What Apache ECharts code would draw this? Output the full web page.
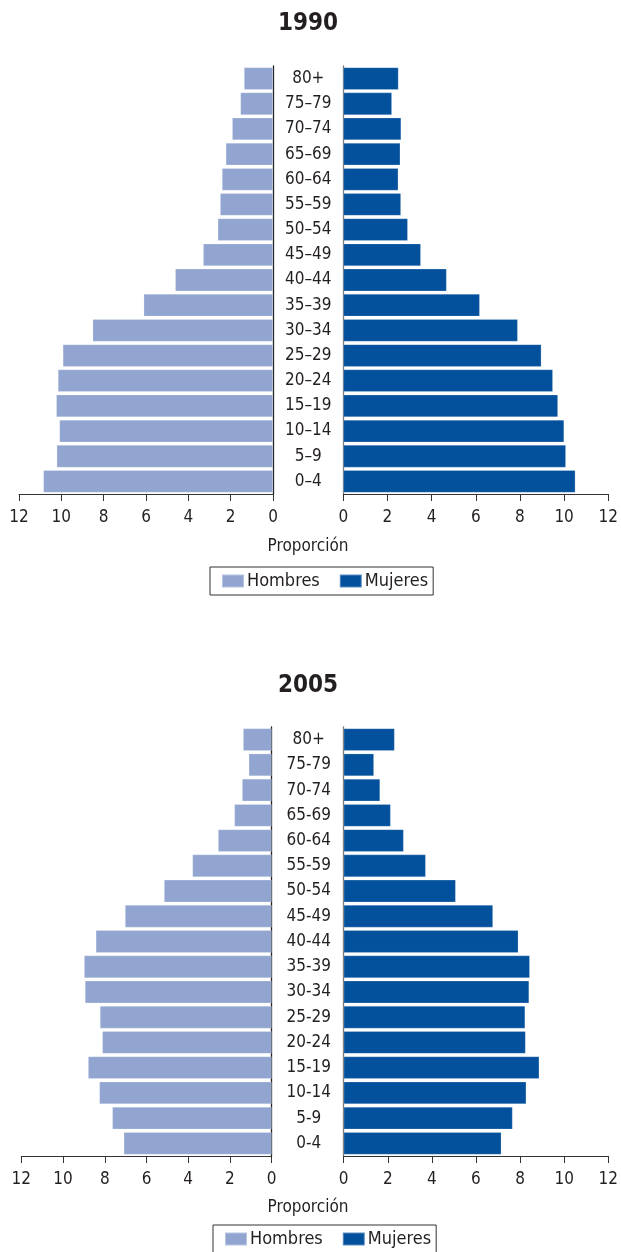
<!DOCTYPE html>
<html>
<head>
<meta charset="utf-8">
<script src="https://cdn.jsdelivr.net/npm/echarts@6/dist/echarts.min.js"></script>
<style>
html,body{margin:0;padding:0;background:#fff;}
#chart{width:621px;height:1252px;}
</style>
</head>
<body>
<div id="chart"></div>
<script>
// Categories (bottom to top)
const ages1990 = ['0–4','5–9','10–14','15–19','20–24','25–29','30–34','35–39','40–44','45–49','50–54','55–59','60–64','65–69','70–74','75–79','80+'];
const ages2005 = ['0-4','5-9','10-14','15-19','20-24','25-29','30-34','35-39','40-44','45-49','50-54','55-59','60-64','65-69','70-74','75-79','80+'];

const hombres1990 = [10.85,10.22,10.09,10.24,10.16,9.93,8.52,6.11,4.62,3.30,2.61,2.50,2.41,2.23,1.93,1.54,1.37];
const mujeres1990 = [10.51,10.08,10.00,9.72,9.49,8.97,7.90,6.18,4.68,3.51,2.92,2.61,2.49,2.58,2.62,2.20,2.50];
const hombres2005 = [7.09,7.64,8.26,8.80,8.12,8.23,8.95,8.99,8.43,7.03,5.16,3.80,2.57,1.79,1.42,1.10,1.37];
const mujeres2005 = [7.15,7.66,8.28,8.87,8.25,8.23,8.41,8.44,7.92,6.77,5.08,3.72,2.72,2.13,1.65,1.37,2.31];

const xTicks = [0,2,4,6,8,10,12];
const titles = ['1990','2005'];
const axisName = 'Proporción';
const seriesNames = ['Hombres','Mujeres'];

const FONT = "'Liberation Sans Narrow','DejaVu Sans Condensed','Roboto',sans-serif";
const COL_H = '#91a5d0';
const COL_M = '#03519c';
const TXT = '#231f20';

const chart = echarts.init(document.getElementById('chart'), null, {renderer:'canvas'});

function xAxisCfg(gridIndex, inverse){
  return {
    type:'value', gridIndex, inverse, min:0, max:12, interval:2,
    axisLine:{show:true, lineStyle:{color:'#333', width:1}},
    axisTick:{show:true, length:7, lineStyle:{color:'#333'}},
    axisLabel:{show:true, margin:15, fontFamily:FONT, fontSize:17, color:TXT,
      formatter:(v)=> xTicks.includes(v) ? String(v) : ''},
    splitLine:{show:false}
  };
}
function yAxisCfg(gridIndex, pos, cats, showLabels){
  return {
    type:'category', gridIndex, position:pos, data:cats,
    axisLine:{show:true, onZero:false, lineStyle:{color: pos==='right' ? '#222' : '#777', width:1.3}},
    axisTick:{show:false},
    axisLabel:{show:showLabels, align:'center', margin:35, fontFamily:FONT, fontSize:17, color:TXT},
    splitLine:{show:false}
  };
}

const grids = [
  {left:19, top:66, width:254, height:428},
  {left:343.3, top:66, width:266.7, height:428},
  {left:21.3, top:727, width:250.4, height:429},
  {left:343.7, top:727, width:264.6, height:429}
];

function barSeries(name, xi, data, color){
  return {
    type:'bar', name, xAxisIndex:xi, yAxisIndex:xi, data,
    barCategoryGap:'11%',
    itemStyle:{color, borderColor:'rgba(255,255,255,0.35)', borderWidth:0.6},
    emphasis:{disabled:true}, animation:false
  };
}

function legendCfg(left, top){
  return {
    left, top, orient:'horizontal',
    data:seriesNames.map(n=>({name:n, icon:'rect'})),
    itemWidth:22, itemHeight:13, itemGap:19,
    borderColor:'#333', borderWidth:1, padding:[5,5,5,11],
    textStyle:{fontFamily:FONT, fontSize:18, color:TXT, padding:[0,0,0,-2]},
    selectedMode:false
  };
}

const option = {
  backgroundColor:'#fff',
  animation:false,
  grid:grids,
  xAxis:[xAxisCfg(0,true), xAxisCfg(1,false), xAxisCfg(2,true), xAxisCfg(3,false)],
  yAxis:[yAxisCfg(0,'right',ages1990,false), yAxisCfg(1,'left',ages1990,true),
         yAxisCfg(2,'right',ages2005,false), yAxisCfg(3,'left',ages2005,true)],
  legend:[legendCfg(210,567), legendCfg(213,1225)],
  graphic:[
    {type:'text', x:308, y:24, style:{text:titles[0], textAlign:'center', textVerticalAlign:'middle', font:"bold 24px "+FONT, fill:TXT}},
    {type:'text', x:308, y:547, style:{text:axisName, textAlign:'center', textVerticalAlign:'middle', font:"17px "+FONT, fill:TXT}},
    {type:'text', x:308, y:686, style:{text:titles[1], textAlign:'center', textVerticalAlign:'middle', font:"bold 24px "+FONT, fill:TXT}},
    {type:'text', x:308, y:1208, style:{text:axisName, textAlign:'center', textVerticalAlign:'middle', font:"17px "+FONT, fill:TXT}}
  ],
  series:[
    barSeries(seriesNames[0],0,hombres1990,COL_H),
    barSeries(seriesNames[1],1,mujeres1990,COL_M),
    barSeries(seriesNames[0],2,hombres2005,COL_H),
    barSeries(seriesNames[1],3,mujeres2005,COL_M)
  ]
};
chart.setOption(option);
</script>
</body>
</html>
